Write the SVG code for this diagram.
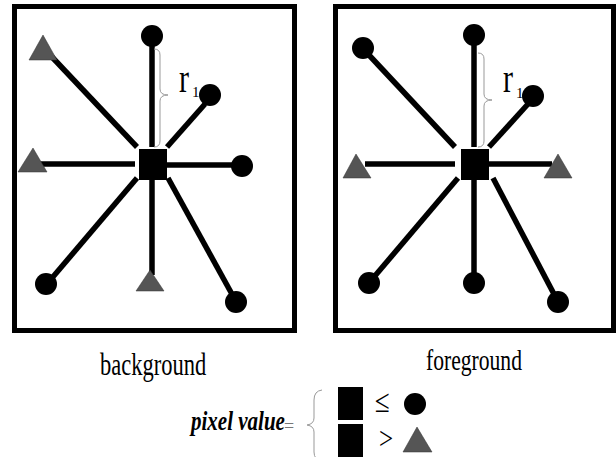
<svg xmlns="http://www.w3.org/2000/svg" width="616" height="457" viewBox="0 0 616 457">
<style>
.frame{fill:none;stroke:#000;stroke-width:5}
.ln{stroke:#000;stroke-width:5.5;fill:none}
.dot{fill:#000}
.tri{fill:#555;stroke:#333;stroke-width:0.5}
.sq{fill:#000}
.brace{fill:none;stroke:#999;stroke-width:1}
.t{font-family:"Liberation Serif","Times New Roman",serif;fill:#000}
</style>
<rect class="frame" x="14.5" y="6.5" width="280" height="324"/>
<rect class="frame" x="335.5" y="6.5" width="278" height="324"/>
<g id="connectors">
  <line class="ln" x1="152" y1="40" x2="152" y2="147"/>
  <line class="ln" x1="52" y1="57" x2="137" y2="147"/>
  <line class="ln" x1="205" y1="104" x2="167" y2="147"/>
  <line class="ln" x1="40" y1="164" x2="135" y2="164"/>
  <line class="ln" x1="167" y1="165" x2="240" y2="165"/>
  <line class="ln" x1="52" y1="278" x2="137" y2="178"/>
  <line class="ln" x1="152" y1="180" x2="152" y2="275"/>
  <line class="ln" x1="168" y1="178" x2="233" y2="296"/>
  <line class="ln" x1="474" y1="40" x2="474" y2="147"/>
  <line class="ln" x1="368" y1="54" x2="455" y2="147"/>
  <line class="ln" x1="528" y1="104" x2="489" y2="147"/>
  <line class="ln" x1="365" y1="164" x2="455" y2="164"/>
  <line class="ln" x1="489" y1="164" x2="552" y2="164"/>
  <line class="ln" x1="374" y1="277" x2="458" y2="178"/>
  <line class="ln" x1="474" y1="180" x2="474" y2="280"/>
  <line class="ln" x1="493" y1="178" x2="555" y2="296"/>
</g>
<g id="left-panel">
  <rect id="l-center" class="sq" x="139" y="149" width="28" height="31"/>
  <circle id="l-top" class="dot" cx="152" cy="36" r="11"/>
  <polygon id="l-topleft" class="tri" points="43,35 29,60 57,60"/>
  <circle id="l-topright" class="dot" cx="210" cy="95" r="11"/>
  <polygon id="l-left" class="tri" points="33,148 18,172 47,172"/>
  <circle id="l-right" class="dot" cx="242" cy="166" r="11"/>
  <circle id="l-bottomleft" class="dot" cx="46" cy="284" r="11"/>
  <polygon id="l-bottom" class="tri" points="150,270 136,291 164,291"/>
  <circle id="l-bottomright" class="dot" cx="236" cy="302" r="11"/>
  <path class="brace" d="M154,49 Q160,49 160,55 L160,89 Q160,95 168,95 Q160,95 160,101 L160,141 Q160,147 154,147"/>
  <text class="t" font-size="30" transform="translate(179,92) scale(1,1.35)">r</text>
  <text class="t" font-size="15" x="192" y="97">1</text>
</g>
<g id="right-panel">
  <rect id="r-center" class="sq" x="461" y="149" width="28" height="31"/>
  <circle id="r-top" class="dot" cx="474" cy="35" r="11"/>
  <circle id="r-topleft" class="dot" cx="363" cy="48" r="11"/>
  <circle id="r-topright" class="dot" cx="533" cy="96" r="11"/>
  <polygon id="r-left" class="tri" points="356,154 343,178 371,178"/>
  <polygon id="r-right" class="tri" points="558,154 544,178 572,178"/>
  <circle id="r-bottomleft" class="dot" cx="369" cy="283" r="11"/>
  <circle id="r-bottom" class="dot" cx="474" cy="283" r="11"/>
  <circle id="r-bottomright" class="dot" cx="558" cy="302" r="11"/>
  <path class="brace" d="M478,53 Q484,53 484,59 L484,94 Q484,100 492,100 Q484,100 484,106 L484,141 Q484,147 478,147"/>
  <text class="t" font-size="30" transform="translate(503,92) scale(1,1.35)">r</text>
  <text class="t" font-size="15" x="516" y="98">1</text>
</g>
<g id="labels">
  <text class="t" font-size="22.5" transform="translate(100,375) scale(1,1.4)">background</text>
  <text class="t" font-size="21.6" transform="translate(426,370) scale(1,1.4)">foreground</text>
</g>
<g id="legend">
  <text class="t" font-size="21" font-style="italic" font-weight="bold" transform="translate(191,430) scale(1,1.25)">pixel value</text>
  <text class="t" font-size="18" x="284" y="432" style="fill:#777">=</text>
  <path class="brace" d="M322,390 Q314,391 314,400 L314,418 Q314,424 307,425 Q314,426 314,432 L314,452 Q314,460 322,461"/>
  <rect id="legend-sq1" class="sq" x="338" y="387" width="25" height="33"/>
  <text class="t" font-size="27" transform="translate(375,412) scale(1,1.2)">≤</text>
  <circle id="legend-dot" class="dot" cx="415" cy="404" r="11"/>
  <rect id="legend-sq2" class="sq" x="338" y="424" width="25" height="33"/>
  <text class="t" font-size="25" transform="translate(379,449) scale(1,1.3)">&gt;</text>
  <polygon id="legend-tri" class="tri" points="417,427 403,452 432,452"/>
</g>
</svg>
